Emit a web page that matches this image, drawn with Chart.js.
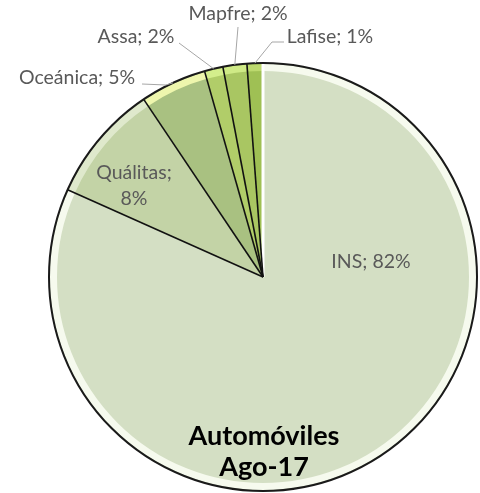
<!DOCTYPE html>
<html><head><meta charset="utf-8">
<script src="https://cdn.jsdelivr.net/npm/chart.js@4"></script>
<style>html,body{margin:0;padding:0;background:#fff}#wrap{width:480px;height:493px;position:relative}</style>
</head><body><div id="wrap"><canvas id="c" width="480" height="493"></canvas></div>
<script>
// ---- data ----
const categories = ['INS', 'Quálitas', 'Oceánica', 'Assa', 'Mapfre', 'Lafise'];
const shares = [81.6, 8.9, 5.0, 1.4, 1.8, 1.2];
const pctLabels = ['82%', '8%', '5%', '2%', '2%', '1%'];
const titleLines = ['Automóviles', 'Ago-17'];

// ---- styles ----
const fillColors = ['#d4dfc4', '#c3d3a6', '#a9c181', '#b1cd69', '#a9c662', '#9fc054'];
const bandColors = ['#f6faee', '#dfe9cc', '#eef6ad', '#d4ee8c', '#cfea86', '#bcd96e'];
const labelFont = '19.5px Lato, "Open Sans", sans-serif';
const labelColor = '#595959';
// label layout: text anchor + optional leader line start points
const labelLayout = [
  {x: 371, y: 262, lines: 1},
  {x: 134, y: 173, lines: 2, gap: 26},
  {x: 77, y: 78, lines: 1, leader: [[142, 84], [166, 85]]},
  {x: 136, y: 37, lines: 1, leader: [[179, 43]]},
  {x: 238, y: 14, lines: 1, leader: [[238, 27]]},
  {x: 330, y: 37, lines: 1, leader: [[284, 42], [272, 42]]}
];

const deco = {
  id: 'deco',
  afterDatasetsDraw(chart) {
    const ctx = chart.ctx;
    const meta = chart.getDatasetMeta(0);
    const a0 = meta.data[0];
    const cx = a0.x, cy = a0.y, R = a0.outerRadius;
    ctx.save();
    // light bevel band near the rim
    meta.data.forEach((arc, i) => {
      ctx.beginPath();
      ctx.arc(cx, cy, R - 4.5, arc.startAngle, arc.endAngle);
      ctx.strokeStyle = bandColors[i];
      ctx.lineWidth = 7;
      ctx.stroke();
    });
    // radial slice edges
    meta.data.forEach((arc, i) => {
      ctx.beginPath();
      ctx.moveTo(cx, cy);
      ctx.lineTo(cx + R * Math.cos(arc.startAngle), cy + R * Math.sin(arc.startAngle));
      if (i === 0) { ctx.strokeStyle = '#ffffff'; ctx.lineWidth = 3; }
      else { ctx.strokeStyle = '#111'; ctx.lineWidth = 1.6; }
      ctx.stroke();
    });
    // outer black circle
    ctx.beginPath();
    ctx.arc(cx, cy, R, 0, Math.PI * 2);
    ctx.strokeStyle = '#1a1a1a';
    ctx.lineWidth = 2;
    ctx.stroke();

    // leader lines + labels
    ctx.font = labelFont;
    ctx.fillStyle = labelColor;
    ctx.textAlign = 'center';
    ctx.textBaseline = 'middle';
    meta.data.forEach((arc, i) => {
      const L = labelLayout[i];
      if (L.leader) {
        const mid = (arc.startAngle + arc.endAngle) / 2;
        ctx.beginPath();
        ctx.moveTo(L.leader[0][0], L.leader[0][1]);
        for (let k = 1; k < L.leader.length; k++) ctx.lineTo(L.leader[k][0], L.leader[k][1]);
        ctx.lineTo(cx + R * Math.cos(mid), cy + R * Math.sin(mid));
        ctx.strokeStyle = '#a6a6a6';
        ctx.lineWidth = 1;
        ctx.stroke();
      }
      if (L.lines === 2) {
        ctx.fillText(categories[i] + ';', L.x, L.y);
        ctx.fillText(pctLabels[i], L.x, L.y + L.gap);
      } else {
        ctx.fillText(categories[i] + '; ' + pctLabels[i], L.x, L.y);
      }
    });
    // title inside pie
    ctx.font = 'bold 27px Lato, "Open Sans", sans-serif';
    ctx.fillStyle = '#000';
    ctx.fillText(titleLines[0], 264, 436);
    ctx.fillText(titleLines[1], 264, 467);
    ctx.restore();
  }
};

new Chart(document.getElementById('c'), {
  type: 'pie',
  data: {
    labels: categories,
    datasets: [{
      data: shares,
      backgroundColor: fillColors,
      borderWidth: 0,
      hoverOffset: 0
    }]
  },
  options: {
    responsive: false,
    animation: false,
    devicePixelRatio: 1,
    radius: 214,
    rotation: 0,
    layout: {padding: {left: 46, right: 0, top: 61, bottom: 0}},
    plugins: {legend: {display: false}, tooltip: {enabled: false}, title: {display: false}},
    events: []
  },
  plugins: [deco]
});
</script>
</body></html>
